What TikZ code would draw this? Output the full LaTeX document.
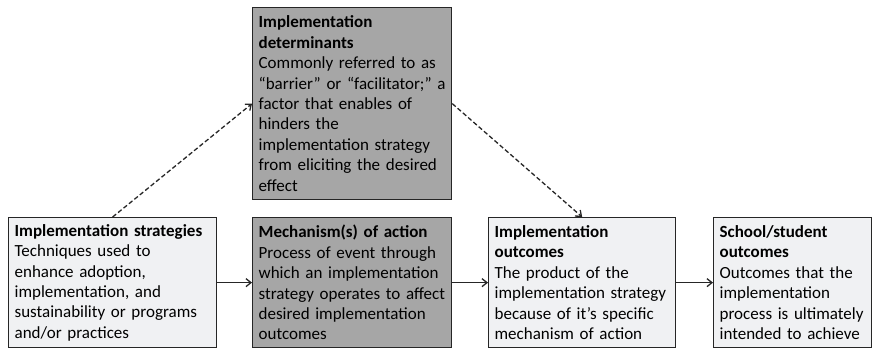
\documentclass[tikz,border=0pt]{standalone}
\usepackage{fontspec}
\setmainfont{Carlito}
\usepackage{xcolor}
\usetikzlibrary{arrows.meta}
\definecolor{lightfill}{HTML}{F0F1F3}
\definecolor{darkfill}{HTML}{A6A6A6}
\definecolor{boxline}{HTML}{262626}

\begin{document}
\begin{tikzpicture}[x=1pt,y=1pt,>={Straight Barb[length=5pt,width=8pt]},
	box/.style={draw=boxline, line width=1.3pt, anchor=north west, align=left,
		inner xsep=6pt, inner ysep=0pt, minimum height=130pt,
		font=\fontsize{17}{20.4}\selectfont},
	lightbox/.style={box, fill=lightfill},
	darkbox/.style={box, fill=darkfill},
	link/.style={->, line width=1.3pt, draw=boxline}]
\useasboundingbox (0,0) rectangle (875,350);

% lower row
\node[lightbox, text width=196pt] (strat) at (8,133) {\textbf{Implementation strategies}\\
	Techniques used to\\ enhance adoption,\\ implementation, and\\
	sustainability or programs\\ and/or practices};
\node[darkbox, text width=187pt] (mech) at (252,133) {\textbf{Mechanism(s) of action}\\
	Process of event through\\ which an implementation\\
	strategy operates to affect\\ desired implementation\\ outcomes};
\node[lightbox, text width=175pt] (implout) at (488,133) {\textbf{Implementation}\\
	\textbf{outcomes}\\ The product of the\\ implementation strategy\\
	because of it’s specific\\ mechanism of action};
\node[lightbox, text width=146pt] (school) at (713,133) {\textbf{School/student}\\
	\textbf{outcomes}\\ Outcomes that the\\ implementation\\
	process is ultimately\\ intended to achieve};

% upper box
\node[darkbox, text width=187pt, minimum height=192pt] (determ) at (252,343) {\textbf{Implementation}\\
	\textbf{determinants}\\ Commonly referred to as\\ “barrier” or “facilitator;” a\\
	factor that enables of\\ hinders the\\ implementation strategy\\
	from eliciting the desired\\ effect};

\draw[link] (strat) -- (mech);
\draw[link] (mech) -- (implout);
\draw[link] (implout) -- (school);
\draw[link, dash pattern=on 4.5pt off 2.5pt] (strat.north) -- (determ.west);
\draw[link, dash pattern=on 4.5pt off 2.5pt] (determ.east) -- (implout.north);
\end{tikzpicture}
\end{document}
